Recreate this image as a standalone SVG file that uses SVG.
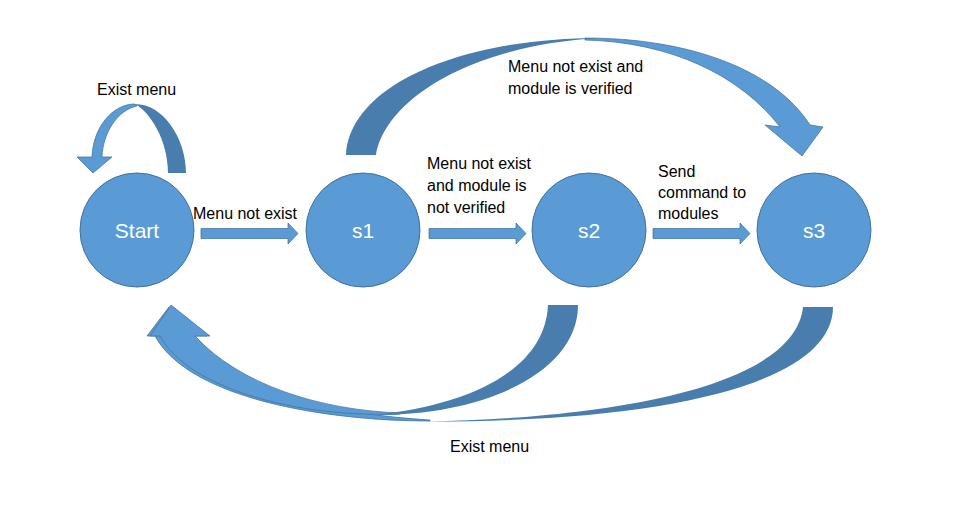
<svg xmlns="http://www.w3.org/2000/svg" width="976" height="509" viewBox="0 0 976 509">
<style>
.node{fill:#5B9BD5;stroke:#41719C;stroke-width:1}
.nl{font-family:"Liberation Sans",Arial,sans-serif;font-size:21px;fill:#FFFFFF;text-anchor:middle}
.lbl{font-family:"Liberation Sans",Arial,sans-serif;font-size:16px;fill:#000000}
.lt{fill:#5B9BD5;stroke:#41719C;stroke-width:0.75;stroke-linejoin:miter}
.dk{fill:#497DAD;stroke:none}
</style>
<rect width="976" height="509" fill="#FFFFFF"/>
<g id="connectors">
  <g id="loop-start">
    <path class="lt" d="M135,104 C112,104 93,128 92,157 L77,157 L93,173 L112,157 L102,157 C103,132 118,110 137,106 Z"/>
    <path class="dk" d="M186,173 C186,138 163,104 135,104 C150,112 168,140 168,173 Z"/>
  </g>
  <g id="start-s1"><path class="lt" d="M201,228.5 H288 V223 L298,233.5 L288,244 V238.5 H201 Z"/></g>
  <g id="s1-s2"><path class="lt" d="M429,228.5 H516 V223 L526,233.5 L516,244 V238.5 H429 Z"/></g>
  <g id="s2-s3"><path class="lt" d="M653,228.5 H740 V223 L750,233.5 L740,244 V238.5 H653 Z"/></g>
  <g id="s1-s3">
    <path class="lt" d="M585,38 C690,38 775,70 810,125 L823,127 L802,156 L765,125 L780,127 C740,75 670,42 585,40 Z"/>
    <path class="dk" d="M346,155 C350,85 460,38 600,38 C470,45 385,100 376,155 Z"/>
  </g>
  <g id="s3-start">
    <path class="lt" d="M430,421 C330,421 190,400 155,336 L147,336 L169,307 L207,336 L192,336 C230,390 330,414 430,420 Z"/>
    <path class="dk" d="M833,307 C833,380 680,422 425,421.5 C620,418 795,385 803,307 Z"/>
  </g>
  <g id="s2-start">
    <path class="lt" d="M400,414 C300,418 190,390 160,336 L150,336 L171,305 L210,336 L195,336 C240,385 320,410 400,413 Z"/>
    <path class="dk" d="M578,305 C578,370 490,415 375,415 C470,405 545,370 548,305 Z"/>
  </g>
</g>
<g id="node-start"><circle class="node" cx="137" cy="230" r="57"/><text class="nl" x="137" y="238">Start</text></g>
<g id="node-s1"><circle class="node" cx="363" cy="230" r="57"/><text class="nl" x="363" y="238">s1</text></g>
<g id="node-s2"><circle class="node" cx="589" cy="230" r="57"/><text class="nl" x="589" y="238">s2</text></g>
<g id="node-s3"><circle class="node" cx="814" cy="230" r="57"/><text class="nl" x="814" y="238">s3</text></g>
<g id="labels">
  <text class="lbl" x="97" y="95">Exist menu</text>
  <text class="lbl" x="193" y="219">Menu not exist</text>
  <text class="lbl" x="508" y="72">Menu not exist and</text>
  <text class="lbl" x="508" y="94">module is verified</text>
  <text class="lbl" x="427" y="169">Menu not exist</text>
  <text class="lbl" x="427" y="191">and module is</text>
  <text class="lbl" x="427" y="213">not verified</text>
  <text class="lbl" x="658" y="177">Send</text>
  <text class="lbl" x="658" y="198">command to</text>
  <text class="lbl" x="658" y="219">modules</text>
  <text class="lbl" x="450" y="452">Exist menu</text>
</g>
</svg>
